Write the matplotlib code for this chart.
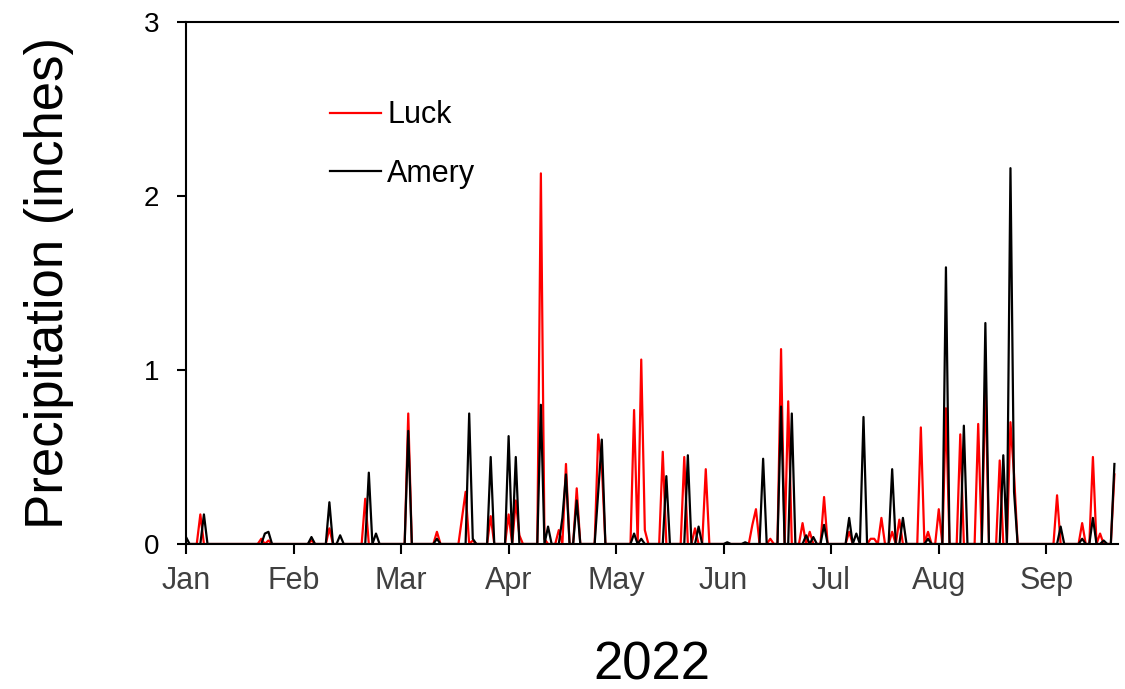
import matplotlib
matplotlib.use("Agg")
import matplotlib.pyplot as plt
import numpy as np

plt.rcParams['font.family'] = ['Liberation Sans', 'DejaVu Sans']

# days since Jan 1, 2022 with non-zero precipitation (inches)
luck_days = [4, 21, 23, 35, 40, 50, 62, 70, 77, 78, 80, 85, 90, 92, 93, 99, 100,
             104, 106, 109, 115, 116, 125, 127, 128, 133, 139, 142, 145, 158, 159,
             163, 166, 168, 172, 174, 178, 185, 191, 192, 194, 197, 199, 205, 207,
             210, 212, 216, 221, 223, 227, 230, 231, 243, 250, 253, 255, 259]
luck_vals = [0.17, 0.03, 0.02, 0.02, 0.09, 0.26, 0.75, 0.07, 0.15, 0.30, 0.02,
             0.16, 0.17, 0.25, 0.05, 2.13, 0.03, 0.08, 0.46, 0.32, 0.63, 0.45,
             0.77, 1.06, 0.08, 0.53, 0.50, 0.09, 0.43, 0.11, 0.20, 0.03, 1.12,
             0.82, 0.12, 0.07, 0.27, 0.07, 0.03, 0.03, 0.15, 0.07, 0.14, 0.67,
             0.07, 0.20, 0.78, 0.63, 0.69, 0.94, 0.48, 0.70, 0.40, 0.28, 0.12,
             0.50, 0.06, 0.40]

amery_days = [0, 5, 22, 23, 35, 40, 43, 51, 53, 62, 70, 79, 80, 85, 90, 92, 99,
              101, 105, 106, 109, 115, 116, 125, 127, 134, 140, 143, 151, 156,
              161, 166, 169, 173, 175, 178, 185, 187, 189, 197, 200, 207, 212,
              217, 223, 228, 230, 231, 244, 250, 253, 256, 259]
amery_vals = [0.04, 0.17, 0.06, 0.07, 0.04, 0.24, 0.05, 0.41, 0.06, 0.65, 0.03,
              0.75, 0.03, 0.50, 0.62, 0.50, 0.80, 0.10, 0.15, 0.40, 0.25, 0.30,
              0.60, 0.06, 0.03, 0.39, 0.51, 0.10, 0.01, 0.01, 0.49, 0.79, 0.75,
              0.05, 0.04, 0.11, 0.15, 0.06, 0.73, 0.43, 0.15, 0.03, 1.59, 0.68,
              1.27, 0.51, 2.16, 0.30, 0.10, 0.03, 0.15, 0.02, 0.46]

month_labels = ['Jan', 'Feb', 'Mar', 'Apr', 'May', 'Jun', 'Jul', 'Aug', 'Sep']

days = np.arange(0, 260)
luck = np.zeros(len(days))
luck[luck_days] = luck_vals
amery = np.zeros(len(days))
amery[amery_days] = amery_vals

fig = plt.figure(figsize=(11.25, 6.89), dpi=100)
ax = fig.add_axes([186/1125, 1 - 544/689, (1118 - 186)/1125, (544 - 22)/689])

ax.plot(days, luck, color='red', lw=1.6, label='Luck')
ax.plot(days, amery, color='black', lw=1.6, label='Amery')

ax.set_xlim(0, 260)
ax.set_ylim(0, 3)
ax.set_xticks(np.arange(0, 270, 30)[:len(month_labels)])
ax.set_xticklabels(month_labels)
ax.set_yticks([0, 1, 2, 3])

ax.spines['right'].set_visible(False)
for s in ['left', 'bottom', 'top']:
    ax.spines[s].set_linewidth(1.5)
ax.tick_params(axis='y', direction='out', length=6.5, width=1.5, labelsize=20, pad=13)
ax.tick_params(axis='x', direction='out', length=7, width=1.5, labelsize=22,
               labelcolor='#404040', pad=9)

ax.set_ylabel('Precipitation (inches)', fontsize=38, labelpad=50)
ax.set_xlabel('2022', fontsize=38, labelpad=32)

ax.legend(frameon=False, fontsize=22, loc='upper left',
          bbox_to_anchor=(315/1125, 1 - 85/689), bbox_transform=fig.transFigure,
          handlelength=1.67, handletextpad=0.2, labelspacing=0.93, borderpad=0)

fig.savefig('out.png', dpi=100)
